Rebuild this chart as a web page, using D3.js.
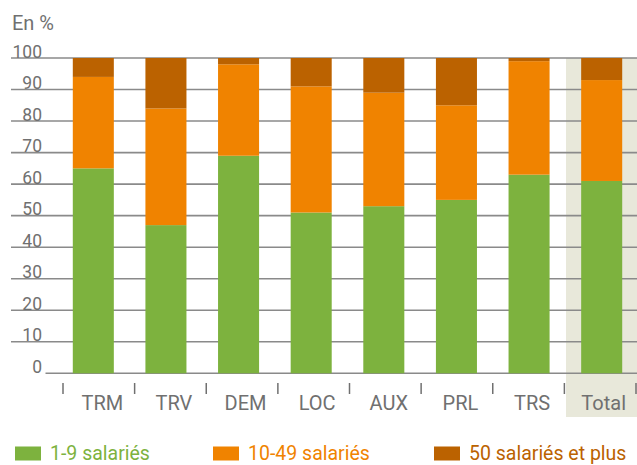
<!DOCTYPE html>
<html><head><meta charset="utf-8">
<script src="https://cdn.jsdelivr.net/npm/d3@7"></script>
<style>
html,body{margin:0;padding:0;background:#fff;}
svg{display:block;font-family:Roboto,"Noto Sans",sans-serif;}
</style></head>
<body>
<svg id="chart" width="637" height="465"></svg>
<script>
const categories = ["TRM","TRV","DEM","LOC","AUX","PRL","TRS","Total"];
const small  = [65, 47, 69, 51, 53, 55, 63, 61];   // 1-9 salariés
const medium = [29, 37, 29, 40, 36, 30, 36, 32];   // 10-49 salariés
const large  = [ 6, 16,  2,  9, 11, 15,  1,  7];   // 50 salariés et plus
const seriesNames = ["1-9 salariés","10-49 salariés","50 salariés et plus"];
const yTicks = [0,10,20,30,40,50,60,70,80,90,100];
const colors = ["#7DB23E","#F08300","#BB6200"];

const svg = d3.select("#chart");
const textGray = "#707070";
const gridGray = "#8a8a8a";

const y = d3.scaleLinear().domain([0,100]).range([373.3, 58]);
const x = d3.scaleBand().domain(categories).range([57, 638])
  .paddingInner(0.435).paddingOuter(0.2175);
const tickX = d3.scaleLinear().domain([0, categories.length]).range([63, 636]);

// Total background
svg.append("rect")
  .attr("x", 566).attr("y", y(100)).attr("width", 80).attr("height", 417 - y(100))
  .attr("fill", "#E8E8DA");

// Gridlines and y labels
yTicks.forEach(t => {
  svg.append("line")
    .attr("x1", t === 0 ? 45.5 : 11).attr("x2", 637)
    .attr("y1", y(t)).attr("y2", y(t))
    .attr("stroke", gridGray).attr("stroke-width", 1.6);
  svg.append("text")
    .attr("x", 42).attr("y", y(t) - 0.5)
    .attr("text-anchor", "end")
    .attr("font-size", 17.5)
    .attr("fill", textGray)
    .text(t);
});

// Stacked bars
const rows = categories.map((c,i) => ({cat:c, s:small[i], m:medium[i], l:large[i]}));
const stack = d3.stack().keys(["s","m","l"]);
const stacked = stack(rows);
stacked.forEach((layer, li) => {
  svg.append("g").selectAll("rect").data(layer).join("rect")
    .attr("x", d => x(d.data.cat))
    .attr("width", x.bandwidth())
    .attr("y", d => y(Math.min(100, d[1])))
    .attr("height", d => y(d[0]) - y(Math.min(100, d[1])))
    .attr("fill", colors[li]);
});

// x tick marks
d3.range(categories.length + 1).forEach(i => {
  svg.append("line")
    .attr("x1", tickX(i)).attr("x2", tickX(i))
    .attr("y1", 383).attr("y2", 394)
    .attr("stroke", textGray).attr("stroke-width", 1.5);
});

// x labels
categories.forEach((c,i) => {
  svg.append("text")
    .attr("x", (tickX(i) + tickX(i+1)) / 2 + 3.5)
    .attr("y", 409.5)
    .attr("text-anchor", "middle")
    .attr("font-size", 20)
    .attr("fill", textGray)
    .text(c);
});

// Unit label
svg.append("text")
  .attr("x", 12).attr("y", 29.5)
  .attr("font-size", 20)
  .attr("fill", textGray)
  .text("En %");

// Legend
const legendX = [15, 213, 434];
seriesNames.forEach((n,i) => {
  svg.append("rect")
    .attr("x", legendX[i]).attr("y", 446.5)
    .attr("width", 26).attr("height", 14)
    .attr("fill", colors[i]);
  svg.append("text")
    .attr("x", legendX[i] + 35).attr("y", 459.5)
    .attr("font-size", 19.5)
    .attr("fill", colors[i])
    .text(n);
});
</script>
</body></html>
